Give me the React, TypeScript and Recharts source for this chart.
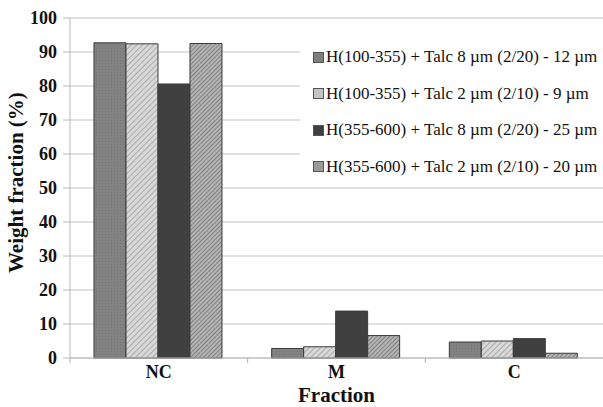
import React from 'react';
import { BarChart, Bar, XAxis, YAxis, CartesianGrid } from 'recharts';

const categories = ['NC', 'M', 'C'];
const seriesNames = [
  'H(100-355) + Talc 8 µm (2/20) - 12 µm',
  'H(100-355) + Talc 2 µm (2/10) - 9 µm',
  'H(355-600) + Talc 8 µm (2/20) - 25 µm',
  'H(355-600) + Talc 2 µm (2/10) - 20 µm',
];
const s1 = [92.7, 2.8, 4.7];
const s2 = [92.4, 3.3, 5.0];
const s3 = [80.6, 13.8, 5.7];
const s4 = [92.5, 6.6, 1.4];
const yTicks = [0, 10, 20, 30, 40, 50, 60, 70, 80, 90, 100];

const data = categories.map((c, i) => ({ name: c, s1: s1[i], s2: s2[i], s3: s3[i], s4: s4[i] }));

const keys = ['s1', 's2', 's3', 's4'];
const fills = ['url(#p1)', 'url(#p2)', '#404040', 'url(#p4)'];
const swatch = ['#7f7f7f', '#c4c4c4', '#404040', '#9a9a9a'];

const FONT = 'Liberation Serif';

const CatTick = (props: any) => {
  const { x, y, payload, width } = props;
  const band = (width || 533) / categories.length;
  return (
    <g>
      <line x1={x - band / 2} x2={x - band / 2} y1={y - 8} y2={y - 3} stroke="#b0b0b0" />
      <text x={x} y={y + 12} textAnchor="middle" fontFamily={FONT} fontSize={18} fontWeight="bold" fill="#111">
        {payload.value}
      </text>
    </g>
  );
};

const LegendBox = () => (
  <div style={{ position: 'absolute', left: 300, top: 36, background: '#fff', width: 303, height: 146, paddingLeft: 13, paddingTop: 3, boxSizing: 'border-box' }}>
    {seriesNames.map((n, i) => (
      <div key={n} style={{ display: 'flex', alignItems: 'center', height: 36.5, fontFamily: FONT, fontSize: 17, color: '#111', whiteSpace: 'nowrap' }}>
        <span style={{ flexShrink: 0, width: 9, height: 9, background: swatch[i], border: '1px solid #555', marginRight: 2 }} />
        {n}
      </div>
    ))}
  </div>
);

export default function App() {
  return (
    <div style={{ position: 'absolute', left: 0, top: 0, width: 603, height: 407, background: '#fff' }}>
      <BarChart
        width={603}
        height={407}
        data={data}
        margin={{ top: 18, right: 0, left: 0, bottom: 0 }}
        barCategoryGap="13.5%"
        barGap={0}
      >
        <defs>
          <pattern id="p1" width="3" height="3" patternUnits="userSpaceOnUse">
            <rect width="3" height="3" fill="#828282" />
            <rect width="1" height="1" fill="#767676" />
          </pattern>
          <pattern id="p2" width="4" height="4" patternUnits="userSpaceOnUse" patternTransform="rotate(45)">
            <rect width="4" height="4" fill="#d8d8d8" />
            <line x1="0" y1="0" x2="0" y2="4" stroke="#8c8c8c" strokeWidth="1.2" />
          </pattern>
          <pattern id="p4" width="3" height="3" patternUnits="userSpaceOnUse" patternTransform="rotate(45)">
            <rect width="3" height="3" fill="#b4b4b4" />
            <line x1="0" y1="0" x2="0" y2="3" stroke="#5e5e5e" strokeWidth="1.2" />
          </pattern>
        </defs>
        <CartesianGrid vertical={false} stroke="#c4c4c4" strokeWidth={1.2} />
        <XAxis
          dataKey="name"
          tick={<CatTick />}
          tickLine={false}
          axisLine={{ stroke: '#b8b8b8' }}
          height={49}
          label={{ value: 'Fraction', position: 'insideBottom', offset: 5, fontFamily: FONT, fontSize: 21, fontWeight: 'bold', fill: '#111' }}
        />
        <YAxis
          domain={[0, 100]}
          ticks={yTicks}
          width={70}
          tickSize={7}
          tickMargin={6}
          tickLine={{ stroke: '#b8b8b8' }}
          axisLine={{ stroke: '#b8b8b8' }}
          tick={{ fontFamily: FONT, fontSize: 18, fontWeight: 'bold', fill: '#111' }}
          label={{ value: 'Weight fraction (%)', angle: -90, position: 'insideLeft', offset: 16, dy: 85, fontFamily: FONT, fontSize: 21, fontWeight: 'bold', fill: '#111' }}
        />
        {keys.map((k, i) => (
          <Bar key={k} dataKey={k} name={seriesNames[i]} fill={fills[i]} stroke="#3a3a3a" strokeWidth={1} isAnimationActive={false} />
        ))}
      </BarChart>
      <LegendBox />
    </div>
  );
}
